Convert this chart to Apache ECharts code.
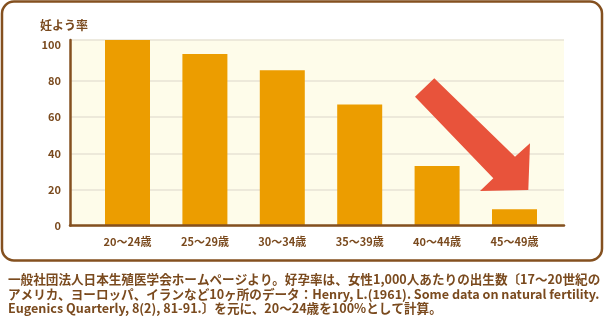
<!DOCTYPE html>
<html>
<head>
<meta charset="utf-8">
<script src="https://cdn.jsdelivr.net/npm/echarts@6/dist/echarts.min.js"></script>
<style>
html,body{margin:0;padding:0;background:#fff;}
#c{width:604px;height:318px;}
</style>
</head>
<body>
<div id="c"></div>
<script>
var categories = ['20～24歳', '25～29歳', '30～34歳', '35～39歳', '40～44歳', '45～49歳'];
var fertility = [102.8, 95, 86, 67, 33, 9];
var yTickLabels = ['0', '20', '40', '60', '80', '100'];
var yTitle = '妊よう率';
var captionLines = [
  '一般社団法人日本生殖医学会ホームページより。好孕率は、女性1,000人あたりの出生数〔17～20世紀の',
  'アメリカ、ヨーロッパ、イランなど10ヶ所のデータ：Henry, L.(1961). Some data on natural fertility.',
  'Eugenics Quarterly, 8(2), 81-91.〕を元に、20～24歳を100%として計算。'
];

var BROWN = '#84501F';
var TEXT = '#7A4A1E';
var FONT = '"Noto Sans CJK JP", "Noto Sans", sans-serif';
var YMAX = 102.8;

var chart = echarts.init(document.getElementById('c'), null, {renderer: 'canvas'});

var captionGraphics = captionLines.map(function (t, i) {
  return {
    type: 'text', left: 8, top: 273 + i * 14.5, z: 10,
    style: {text: t, fontSize: 12.6, fontWeight: 'bold', fontFamily: FONT, fill: TEXT}
  };
});

var option = {
  backgroundColor: '#ffffff',
  animation: false,
  grid: [
    {left: 88.8, right: 50.8, top: 40, bottom: 92.5, containLabel: false},
    {left: 70, right: 40, top: 40, bottom: 92.5, containLabel: false, show: true, backgroundColor: '#FEFCEA', borderWidth: 0}
  ],
  xAxis: [
    {
      type: 'category', gridIndex: 0, data: categories,
      axisLine: {show: false}, axisTick: {show: false},
      axisLabel: {color: TEXT, fontSize: 11, fontFamily: FONT, fontWeight: 'bold', margin: 11}
    },
    {
      type: 'value', gridIndex: 1, min: 0, max: 1, z: 5,
      axisLine: {show: true, onZero: false, lineStyle: {color: BROWN, width: 2.5}},
      axisTick: {show: false}, axisLabel: {show: false}, splitLine: {show: false}
    }
  ],
  yAxis: [
    {
      type: 'value', gridIndex: 0, min: 0, max: YMAX,
      axisLine: {show: false}, axisTick: {show: false}, axisLabel: {show: false}, splitLine: {show: false}
    },
    {
      type: 'value', gridIndex: 1, min: 0, max: YMAX, interval: 20, z: 0,
      axisLine: {show: true, lineStyle: {color: BROWN, width: 2.5}},
      axisTick: {show: false},
      axisLabel: {
        color: TEXT, fontSize: 11, fontFamily: FONT, fontWeight: 'bold', margin: 9,
        formatter: function (v) {
          var s = String(Math.round(v));
          return (Math.abs(v - Math.round(v)) < 1e-6 && yTickLabels.indexOf(s) >= 0) ? s : '';
        }
      },
      splitLine: {
        show: true,
        lineStyle: {color: ['#E7E3D4', '#E7E3D4', '#E7E3D4', '#E7E3D4', '#E7E3D4', 'rgba(0,0,0,0)', '#E7E3D4'], width: 1.5}
      }
    }
  ],
  series: [
    {
      type: 'bar', xAxisIndex: 0, yAxisIndex: 0, data: fertility,
      barWidth: 45, itemStyle: {color: '#EC9D00'}, z: 2
    }
  ],
  graphic: [
    {
      type: 'rect', z: -10, silent: true,
      shape: {x: 2, y: 1.5, width: 600, height: 259, r: 12},
      style: {fill: 'none', stroke: BROWN, lineWidth: 2.5}
    },
    {
      type: 'text', left: 40, top: 19, z: 10,
      style: {text: yTitle, fontSize: 12, fontWeight: 'bold', fontFamily: FONT, fill: TEXT}
    },
    {
      type: 'polygon', z: 10, silent: true,
      shape: {points: [[434.3, 78.3], [515, 156.7], [530, 143.3], [528.3, 190], [480, 191], [493.3, 178.3], [415, 96.7]]},
      style: {fill: '#E8533B'}
    }
  ].concat(captionGraphics)
};

chart.setOption(option);
</script>
</body>
</html>
